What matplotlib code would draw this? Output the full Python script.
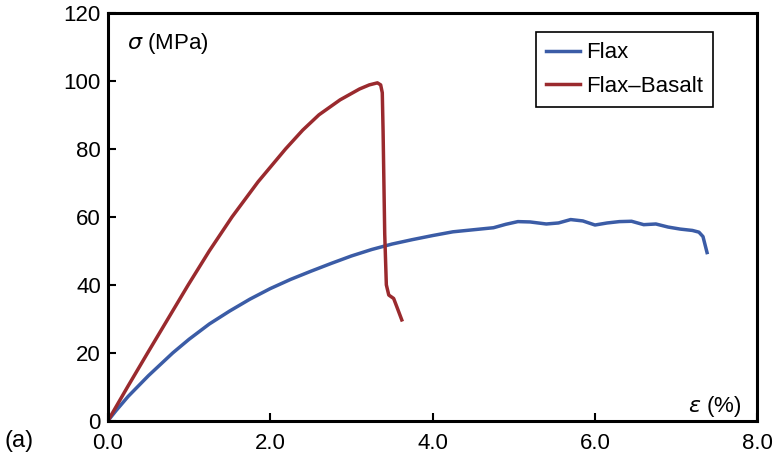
"""Stress-strain curves for Flax and Flax-Basalt composites."""
import matplotlib

matplotlib.use("Agg")
import matplotlib.pyplot as plt

plt.rcParams["font.family"] = ["Liberation Sans", "DejaVu Sans"]

# Flax curve (strain %, stress MPa)
flax_strain = [0.0, 0.1, 0.25, 0.5, 0.8, 1.0, 1.25, 1.5, 1.75, 2.0, 2.25, 2.5,
               2.75, 3.0, 3.25, 3.5, 3.75, 4.0, 4.25, 4.5, 4.75, 4.9, 5.05, 5.2,
               5.4, 5.55, 5.7, 5.85, 6.0, 6.15, 6.3, 6.45, 6.6, 6.75, 6.9, 7.05,
               7.2, 7.28, 7.33, 7.38]
flax_stress = [0.0, 3.0, 7.2, 13.3, 20.0, 24.0, 28.5, 32.3, 35.8, 38.9, 41.6, 44.0,
               46.3, 48.5, 50.4, 52.0, 53.3, 54.5, 55.6, 56.2, 56.8, 57.8, 58.6, 58.5,
               57.9, 58.2, 59.2, 58.8, 57.6, 58.2, 58.6, 58.7, 57.7, 57.9, 57.0, 56.4,
               56.0, 55.5, 54.2, 49.5]

# Flax-Basalt curve
fb_strain = [0.0, 0.25, 0.49, 0.74, 0.99, 1.25, 1.53, 1.85, 2.19, 2.4, 2.6, 2.86,
             3.1, 3.22, 3.32, 3.36, 3.38, 3.39, 3.40, 3.41, 3.43, 3.46,
             3.52, 3.56, 3.62]
fb_stress = [0.0, 10.3, 20.0, 30.0, 40.0, 50.0, 60.0, 70.3, 80.0, 85.5, 90.0, 94.4,
             97.6, 98.8, 99.4, 98.8, 96.5, 85.0, 70.0, 55.0, 40.0, 37.0,
             36.0, 33.5, 29.7]

x_ticks = [0, 2, 4, 6, 8]
y_ticks = [0, 20, 40, 60, 80, 100, 120]

fig = plt.figure(figsize=(7.76, 4.57), dpi=100)
ax = fig.add_axes([0.139, 0.079, 0.837, 0.893])

ax.plot(flax_strain, flax_stress, color="#3b5ca6", lw=2.5, label="Flax")
ax.plot(fb_strain, fb_stress, color="#9a2a2e", lw=2.5, label="Flax\u2013Basalt")

ax.set_xlim(0, 8)
ax.set_ylim(0, 120)
ax.set_xticks(x_ticks)
ax.set_xticklabels([f"{t:.1f}" for t in x_ticks])
ax.set_yticks(y_ticks)
ax.tick_params(direction="in", length=6, width=1.5, labelsize=16, pad=5,
               top=False, right=False)
ax.tick_params(axis="x", pad=9)
for spine in ax.spines.values():
    spine.set_linewidth(2.2)

ax.text(0.03, 0.925, r"$\sigma$ (MPa)", transform=ax.transAxes, fontsize=16,
        va="center", ha="left")
ax.text(0.975, 0.035, r"$\varepsilon$ (%)", transform=ax.transAxes, fontsize=16,
        va="center", ha="right")
fig.text(0.006, 0.036, "(a)", fontsize=17, va="center", ha="left")

leg = ax.legend(loc="upper right", bbox_to_anchor=(0.932, 0.952), fontsize=16,
                handlelength=1.5, handletextpad=0.3, borderpad=0.45,
                labelspacing=0.55, fancybox=False, framealpha=1,
                borderaxespad=0)
leg.get_frame().set_edgecolor("black")
leg.get_frame().set_linewidth(1.2)

fig.savefig("out.png", dpi=100)
